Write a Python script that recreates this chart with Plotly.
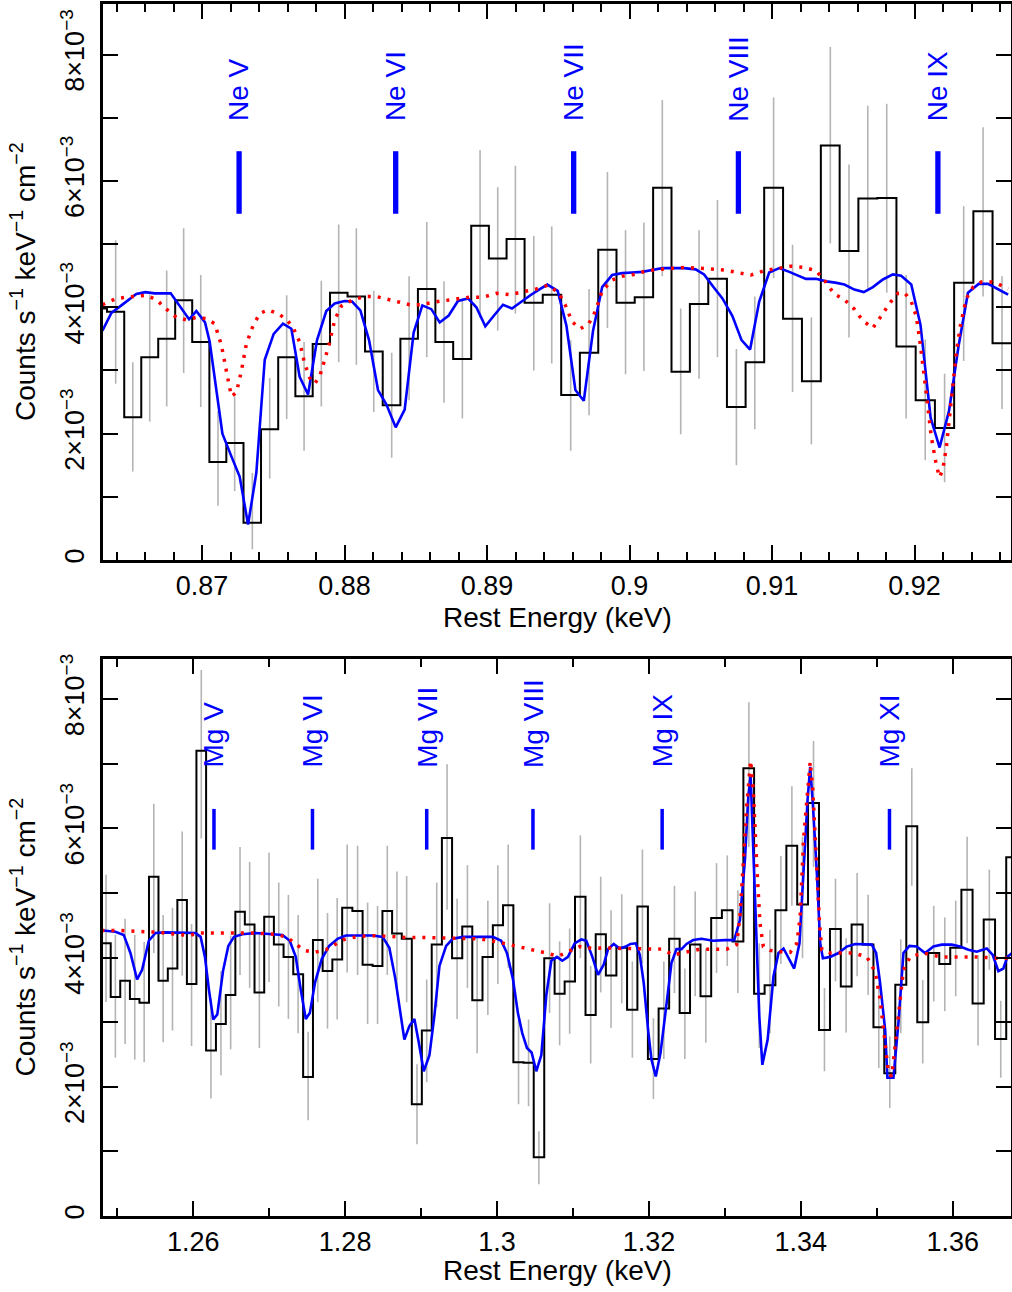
import plotly.graph_objects as go

# ---------------- top panel : Ne region (counts in units of 1e-3) ----------------
ne_e = [0.86272, 0.86394, 0.86514, 0.86633, 0.86752, 0.86871, 0.86991, 0.87112, 0.87229,
        0.87353, 0.87475, 0.87594, 0.87716, 0.87837, 0.87959, 0.88083, 0.88205, 0.88331,
        0.88453, 0.88577, 0.88698, 0.88827, 0.88951, 0.89075, 0.89199, 0.89328, 0.89454,
        0.89587, 0.89716, 0.89845, 0.89972, 0.90101, 0.90230, 0.90359, 0.90488, 0.90617,
        0.90750, 0.90879, 0.91011, 0.91144, 0.91276, 0.91409, 0.91540, 0.91672, 0.91805,
        0.91941, 0.92075, 0.92211, 0.92345, 0.92481, 0.92614]
ne_rate = [3.98, 3.93, 2.26, 3.21, 3.50, 4.11, 3.45, 1.55, 1.85,
           0.59, 2.07, 3.21, 2.59, 3.42, 4.23, 4.17, 3.30, 2.45,
           3.50, 4.29, 3.45, 3.18, 5.29, 4.77, 5.08, 4.07, 4.20,
           2.61, 3.28, 4.91, 4.07, 4.16, 5.89, 2.98, 4.05, 4.45,
           2.42, 3.13, 5.89, 3.82, 2.83, 6.56, 4.89, 5.72, 5.73,
           3.38, 2.53, 2.09, 4.39, 5.52, 3.43]
ne_lo = [2.90, 2.79, 1.40, 2.19, 2.43, 2.96, 2.42, 0.86, 1.09,
         0.17, 1.29, 2.23, 1.73, 2.43, 3.13, 3.09, 2.34, 1.62,
         2.53, 3.21, 2.49, 2.24, 3.83, 3.63, 3.90, 3.00, 3.11,
         1.73, 2.29, 3.67, 2.94, 2.99, 4.49, 1.99, 2.87, 3.21,
         1.50, 2.07, 4.46, 2.66, 1.83, 5.01, 3.52, 4.26, 4.23,
         2.24, 1.58, 1.23, 3.15, 4.17, 2.39]
ne_hi = [5.00, 5.06, 3.13, 4.20, 4.58, 5.25, 4.51, 2.36, 2.59,
         1.38, 2.88, 4.19, 3.45, 4.42, 5.31, 5.25, 4.26, 3.28,
         4.49, 5.35, 4.41, 4.14, 6.49, 5.90, 6.24, 5.13, 5.28,
         3.48, 4.29, 6.14, 5.22, 5.34, 7.28, 3.98, 5.22, 5.70,
         3.34, 4.17, 7.32, 4.99, 3.84, 8.12, 6.26, 7.19, 7.22,
         4.51, 3.49, 2.95, 5.60, 6.85, 4.49]

ne_blue_e = [0.86301, 0.86364, 0.86434, 0.86539, 0.86602, 0.86668, 0.86780, 0.86843, 0.86909,
             0.86960, 0.87021, 0.87054, 0.87089, 0.87143, 0.87206, 0.87264, 0.87323, 0.87381,
             0.87440, 0.87503, 0.87568, 0.87627, 0.87685, 0.87744, 0.87807, 0.87872, 0.87931,
             0.88001, 0.88053, 0.88111, 0.88172, 0.88235, 0.88294, 0.88359, 0.88422, 0.88485,
             0.88546, 0.88609, 0.88668, 0.88731, 0.88796, 0.88867, 0.88925, 0.88988, 0.89049,
             0.89112, 0.89175, 0.89241, 0.89304, 0.89365, 0.89423, 0.89496, 0.89557, 0.89620,
             0.89679, 0.89744, 0.89808, 0.89878, 0.89948, 0.90019, 0.90089, 0.90159, 0.90230,
             0.90300, 0.90382, 0.90464, 0.90523, 0.90589, 0.90652, 0.90722, 0.90786, 0.90846,
             0.90910, 0.90980, 0.91051, 0.91121, 0.91179, 0.91238, 0.91308, 0.91379, 0.91444,
             0.91508, 0.91578, 0.91644, 0.91708, 0.91778, 0.91848, 0.91906, 0.91977, 0.92042,
             0.92113, 0.92176, 0.92242, 0.92310, 0.92375, 0.92450, 0.92516, 0.92586, 0.92657]
ne_blue = [3.63, 3.91, 4.03, 4.21, 4.24, 4.22, 4.22, 4.01, 3.81,
           3.94, 3.76, 3.45, 2.88, 2.00, 1.64, 1.32, 0.56, 1.38,
           3.17, 3.58, 3.74, 3.66, 2.90, 2.62, 3.48, 3.94, 4.06,
           4.10, 4.09, 3.95, 3.48, 2.69, 2.46, 2.10, 2.38, 3.60,
           4.03, 3.97, 3.76, 3.87, 4.10, 4.14, 4.00, 3.70, 3.87,
           4.04, 3.98, 4.09, 4.19, 4.28, 4.36, 4.26, 3.71, 2.69,
           2.52, 3.63, 4.32, 4.51, 4.54, 4.55, 4.56, 4.59, 4.62,
           4.62, 4.62, 4.60, 4.52, 4.32, 4.14, 3.86, 3.48, 3.33,
           4.09, 4.55, 4.62, 4.56, 4.51, 4.45, 4.45, 4.41, 4.39,
           4.36, 4.28, 4.24, 4.32, 4.44, 4.52, 4.50, 4.36, 3.72,
           2.25, 1.78, 2.36, 3.40, 4.23, 4.37, 4.37, 4.29, 4.20]

ne_red_e = [0.86301, 0.86399, 0.86516, 0.86609, 0.86680, 0.86750, 0.86820, 0.86890, 0.86960,
            0.87030, 0.87089, 0.87136, 0.87171, 0.87206, 0.87241, 0.87276, 0.87311, 0.87358,
            0.87405, 0.87463, 0.87533, 0.87592, 0.87639, 0.87685, 0.87720, 0.87756, 0.87791,
            0.87826, 0.87861, 0.87896, 0.87931, 0.87978, 0.88060, 0.88142, 0.88223, 0.88305,
            0.88387, 0.88457, 0.88539, 0.88621, 0.88715, 0.88808, 0.88878, 0.88972, 0.89066,
            0.89159, 0.89253, 0.89346, 0.89428, 0.89503, 0.89550, 0.89597, 0.89655, 0.89714,
            0.89761, 0.89808, 0.89878, 0.89948, 0.90031, 0.90124, 0.90218, 0.90312, 0.90382,
            0.90476, 0.90570, 0.90664, 0.90757, 0.90851, 0.90945, 0.91039, 0.91133, 0.91226,
            0.91308, 0.91367, 0.91437, 0.91508, 0.91578, 0.91637, 0.91707, 0.91766, 0.91824,
            0.91883, 0.91930, 0.91977, 0.92012, 0.92035, 0.92059, 0.92082, 0.92117, 0.92153,
            0.92176, 0.92199, 0.92223, 0.92246, 0.92270, 0.92293, 0.92324, 0.92364, 0.92411,
            0.92469, 0.92539, 0.92586, 0.92657]
ne_red = [4.04, 4.14, 4.17, 4.19, 4.12, 3.97, 3.84, 3.80, 3.84,
          3.82, 3.74, 3.40, 2.99, 2.59, 2.65, 2.99, 3.42, 3.71,
          3.90, 3.96, 3.90, 3.81, 3.68, 3.45, 3.11, 2.88, 2.79,
          2.91, 3.17, 3.45, 3.80, 4.02, 4.12, 4.17, 4.17, 4.13,
          4.08, 4.04, 4.04, 4.08, 4.11, 4.14, 4.16, 4.16, 4.22,
          4.20, 4.24, 4.29, 4.35, 4.23, 4.03, 3.77, 3.66, 3.74,
          3.94, 4.26, 4.43, 4.49, 4.52, 4.58, 4.60, 4.62, 4.63,
          4.62, 4.60, 4.59, 4.55, 4.51, 4.58, 4.62, 4.65, 4.63,
          4.58, 4.43, 4.21, 4.12, 3.97, 3.79, 3.67, 3.86, 4.06,
          4.22, 4.23, 4.09, 3.86, 3.51, 3.11, 2.65, 1.96, 1.50,
          1.31, 1.44, 1.78, 2.25, 2.82, 3.28, 3.74, 4.14, 4.32,
          4.40, 4.40, 4.37, 4.29]

ne_ions = ["Ne V", "Ne VI", "Ne VII", "Ne VIII", "Ne IX"]
ne_ion_e = [0.87260, 0.88359, 0.89608, 0.90764, 0.92164]

# ---------------- bottom panel : Mg region ----------------
mg_e = [1.24852, 1.24975, 1.25103, 1.25230, 1.25354, 1.25481, 1.25604, 1.25727, 1.25855,
        1.25978, 1.26106, 1.26233, 1.26365, 1.26493, 1.26616, 1.26743, 1.26871, 1.26998,
        1.27126, 1.27253, 1.27381, 1.27513, 1.27640, 1.27768, 1.27895, 1.28027, 1.28164,
        1.28296, 1.28427, 1.28555, 1.28682, 1.28810, 1.28946, 1.29074, 1.29206, 1.29342,
        1.29474, 1.29610, 1.29738, 1.29879, 1.30011, 1.30147, 1.30283, 1.30415, 1.30551,
        1.30692, 1.30824, 1.30956, 1.31097, 1.31233, 1.31365, 1.31501, 1.31642, 1.31782,
        1.31914, 1.32059, 1.32196, 1.32336, 1.32473, 1.32609, 1.32749, 1.32890, 1.33031,
        1.33171, 1.33316, 1.33453, 1.33593, 1.33737, 1.33882, 1.34022, 1.34167, 1.34311,
        1.34456, 1.34596, 1.34741, 1.34886, 1.35026, 1.35171, 1.35316, 1.35461, 1.35605,
        1.35750, 1.35895, 1.36039, 1.36189, 1.36333, 1.36482, 1.36632, 1.36776]
mg_rate = [4.22, 3.39, 3.64, 3.36, 3.30, 5.25, 3.64, 3.83, 4.89,
           3.59, 7.20, 2.56, 2.97, 3.42, 4.71, 4.51, 3.46, 4.63,
           4.20, 4.01, 3.74, 2.15, 4.27, 3.79, 3.97, 4.77, 4.72,
           3.89, 3.87, 4.72, 4.37, 4.29, 1.73, 2.87, 4.20, 5.85,
           3.99, 4.48, 3.34, 4.01, 4.50, 4.81, 2.38, 2.37, 0.91,
           3.99, 3.44, 3.63, 4.94, 3.11, 4.36, 3.72, 4.15, 3.19,
           4.79, 2.43, 3.21, 4.29, 3.14, 4.20, 3.40, 4.61, 4.73,
           4.25, 6.93, 3.44, 3.57, 4.73, 5.73, 4.82, 6.39, 2.88,
           4.44, 3.55, 4.51, 4.20, 2.92, 2.21, 3.58, 6.03, 3.00,
           4.07, 3.90, 4.15, 5.05, 3.29, 4.59, 2.74, 5.55]
mg_lo = [3.31, 2.45, 2.66, 2.42, 2.38, 4.07, 2.69, 2.87, 3.72,
         2.63, 5.84, 1.82, 2.18, 2.58, 3.73, 3.53, 2.60, 3.62,
         3.24, 3.05, 2.83, 1.48, 3.31, 2.90, 3.04, 3.77, 3.73,
         2.97, 2.97, 3.73, 3.42, 3.31, 1.11, 2.07, 3.23, 4.74,
         3.05, 3.53, 2.52, 3.11, 3.59, 3.84, 1.73, 1.70, 0.49,
         3.14, 2.64, 2.82, 3.99, 2.36, 3.46, 2.91, 3.29, 2.45,
         3.91, 1.81, 2.43, 3.45, 2.43, 3.40, 2.68, 3.76, 3.87,
         3.45, 5.71, 2.60, 2.83, 3.90, 4.80, 3.99, 5.40, 2.24,
         3.63, 2.84, 3.71, 3.42, 2.29, 1.67, 2.83, 5.11, 2.36,
         3.32, 3.17, 3.40, 4.22, 2.64, 3.81, 2.14, 4.68]
mg_hi = [5.28, 4.35, 4.60, 4.35, 4.24, 6.38, 4.66, 4.77, 5.95,
         4.52, 8.45, 3.36, 3.79, 4.34, 5.71, 5.48, 4.40, 5.62,
         5.16, 4.97, 4.66, 2.85, 5.22, 4.69, 4.92, 5.75, 5.73,
         4.85, 4.80, 5.73, 5.33, 5.26, 2.35, 3.66, 5.16, 6.99,
         4.91, 5.43, 4.32, 4.88, 5.43, 5.75, 3.04, 3.04, 1.31,
         4.84, 4.25, 4.45, 5.89, 3.87, 5.25, 4.73, 4.98, 3.94,
         5.67, 3.06, 3.94, 5.11, 3.83, 5.02, 4.14, 5.46, 5.58,
         5.04, 7.95, 4.22, 4.43, 5.57, 6.65, 5.87, 7.35, 3.53,
         5.22, 4.30, 5.31, 4.97, 3.61, 2.78, 4.28, 6.93, 3.65,
         4.80, 4.62, 4.88, 5.87, 4.04, 5.36, 3.33, 6.38]

mg_blue_e = [1.24791, 1.24975, 1.25085, 1.25173, 1.25261, 1.25327, 1.25415, 1.25503, 1.25635,
             1.25855, 1.26031, 1.26097, 1.26154, 1.26207, 1.26264, 1.26317, 1.26392, 1.26462,
             1.26537, 1.26647, 1.26823, 1.27043, 1.27175, 1.27271, 1.27350, 1.27416, 1.27482,
             1.27535, 1.27605, 1.27693, 1.27790, 1.27900, 1.28010, 1.28186, 1.28362, 1.28494,
             1.28582, 1.28661, 1.28727, 1.28780, 1.28846, 1.28912, 1.28969, 1.29035, 1.29110,
             1.29176, 1.29242, 1.29330, 1.29418, 1.29550, 1.29813, 1.29945, 1.30055, 1.30130,
             1.30209, 1.30275, 1.30332, 1.30394, 1.30455, 1.30517, 1.30583, 1.30649, 1.30715,
             1.30789, 1.30859, 1.30934, 1.31022, 1.31110, 1.31176, 1.31255, 1.31330, 1.31404,
             1.31462, 1.31536, 1.31615, 1.31695, 1.31756, 1.31827, 1.31880, 1.31932, 1.31989,
             1.32033, 1.32090, 1.32152, 1.32222, 1.32297, 1.32363, 1.32429, 1.32495, 1.32583,
             1.32693, 1.32846, 1.33000, 1.33123, 1.33198, 1.33264, 1.33308, 1.33339, 1.33374,
             1.33418, 1.33453, 1.33493, 1.33563, 1.33640, 1.33706, 1.33772, 1.33838, 1.33912,
             1.33982, 1.34035, 1.34088, 1.34123, 1.34158, 1.34211, 1.34255, 1.34290, 1.34386,
             1.34496, 1.34605, 1.34715, 1.34825, 1.34934, 1.34991, 1.35044, 1.35110, 1.35140,
             1.35219, 1.35285, 1.35351, 1.35430, 1.35526, 1.35636, 1.35746, 1.35855, 1.35987,
             1.36097, 1.36206, 1.36316, 1.36448, 1.36526, 1.36601, 1.36667, 1.36719, 1.36781]
mg_blue = [4.42, 4.40, 4.35, 4.07, 3.66, 3.81, 4.26, 4.38, 4.39,
           4.39, 4.38, 4.32, 4.01, 3.50, 3.04, 3.12, 3.79, 4.18,
           4.32, 4.36, 4.38, 4.36, 4.35, 4.26, 4.01, 3.50, 3.05,
           3.14, 3.62, 3.98, 4.18, 4.29, 4.34, 4.34, 4.34, 4.32,
           4.15, 3.67, 3.14, 2.73, 2.94, 3.05, 2.69, 2.24, 2.49,
           3.11, 3.87, 4.18, 4.29, 4.32, 4.32, 4.32, 4.26, 4.07,
           3.67, 3.14, 2.83, 2.60, 2.53, 2.24, 2.49, 3.42, 3.95,
           4.01, 3.95, 4.01, 4.22, 4.28, 4.26, 4.01, 3.73, 3.89,
           4.13, 4.21, 4.14, 4.17, 4.21, 4.22, 4.04, 3.60, 2.88,
           2.42, 2.16, 2.52, 3.19, 3.92, 4.13, 4.13, 4.21, 4.27,
           4.29, 4.26, 4.27, 4.27, 4.58, 5.51, 6.49, 6.82, 5.66,
           4.07, 3.09, 2.34, 2.73, 3.71, 4.07, 4.14, 3.99, 3.83,
           4.22, 5.35, 6.43, 6.95, 6.38, 5.30, 4.22, 3.99, 4.01,
           4.07, 4.17, 4.21, 4.21, 4.20, 4.07, 3.60, 2.88, 2.14,
           2.14, 2.99, 4.07, 4.18, 4.17, 4.07, 4.17, 4.20, 4.20,
           4.17, 4.12, 4.09, 4.14, 4.04, 3.79, 3.83, 4.01, 4.07]

mg_red_e = [1.24791, 1.25019, 1.25371, 1.25547, 1.25767, 1.25943, 1.26075, 1.26251, 1.26515,
            1.26779, 1.27087, 1.27241, 1.27350, 1.27460, 1.27592, 1.27746, 1.27878, 1.27988,
            1.28142, 1.28318, 1.28538, 1.28802, 1.29022, 1.29286, 1.29550, 1.29769, 1.30011,
            1.30209, 1.30473, 1.30649, 1.30803, 1.31088, 1.31264, 1.31440, 1.31659, 1.31835,
            1.32011, 1.32165, 1.32319, 1.32495, 1.32671, 1.32846, 1.33022, 1.33154, 1.33198,
            1.33242, 1.33286, 1.33339, 1.33374, 1.33418, 1.33462, 1.33506, 1.33594, 1.33728,
            1.33860, 1.33947, 1.33991, 1.34035, 1.34088, 1.34123, 1.34158, 1.34211, 1.34246,
            1.34276, 1.34386, 1.34518, 1.34693, 1.34869, 1.34978, 1.35044, 1.35110, 1.35154,
            1.35197, 1.35241, 1.35299, 1.35351, 1.35439, 1.35614, 1.35834, 1.36053, 1.36316,
            1.36579, 1.36755]
mg_red = [4.42, 4.42, 4.40, 4.39, 4.36, 4.34, 4.38, 4.38, 4.38,
          4.38, 4.36, 4.31, 4.21, 4.11, 4.08, 4.12, 4.21, 4.28,
          4.32, 4.34, 4.33, 4.31, 4.31, 4.30, 4.30, 4.29, 4.24,
          4.19, 4.12, 4.07, 4.02, 4.17, 4.14, 4.15, 4.14, 4.14,
          4.14, 4.13, 4.04, 4.08, 4.13, 4.13, 4.13, 4.20, 4.63,
          5.46, 6.33, 7.05, 6.59, 5.46, 4.53, 4.17, 4.11, 4.09,
          4.08, 4.22, 4.63, 5.82, 6.59, 7.03, 6.59, 5.25, 4.53,
          4.12, 4.07, 4.07, 4.07, 4.01, 3.78, 3.35, 2.68, 2.21,
          2.16, 2.63, 3.29, 3.81, 4.01, 4.07, 4.01, 4.01, 4.01,
          3.99, 3.99]

mg_ions = ["Mg V", "Mg VI", "Mg VII", "Mg VIII", "Mg IX", "Mg XI"]
mg_ion_e = [1.26273, 1.27570, 1.29074, 1.30473, 1.32174, 1.35167]

FONT = "Liberation Sans, Arial, sans-serif"
BLUE = "#0000ff"
RED = "#ff0000"


def steps(cen, val):
    edges = [cen[0] - (cen[1] - cen[0]) / 2]
    edges += [(a + b) / 2 for a, b in zip(cen[:-1], cen[1:])]
    edges.append(cen[-1] + (cen[-1] - cen[-2]) / 2)
    return edges, list(val) + [val[-1]]


def segs(xs, lo, hi):
    x, y = [], []
    for c, a, b in zip(xs, lo, hi):
        x += [c, c, None]
        y += [a, b, None]
    return x, y


def add_panel(fig, xa, ya, e, rate, lo, hi, be, bl, re_, rd, ions, ion_e, bar_lo, bar_hi, bar_w):
    ex, ey = segs(e, lo, hi)
    fig.add_trace(go.Scatter(x=ex, y=ey, mode="lines", line=dict(color="#b4b4b4", width=1.6),
                             xaxis=xa, yaxis=ya, hoverinfo="skip"))
    hx, hy = steps(e, rate)
    fig.add_trace(go.Scatter(x=hx, y=hy, mode="lines", line=dict(color="black", width=2, shape="hv"),
                             xaxis=xa, yaxis=ya))
    fig.add_trace(go.Scatter(x=be, y=bl, mode="lines", line=dict(color=BLUE, width=2.6),
                             xaxis=xa, yaxis=ya))
    fig.add_trace(go.Scatter(x=re_, y=rd, mode="lines", line=dict(color=RED, width=3.5, dash="3px,7px"),
                             xaxis=xa, yaxis=ya))
    tx, ty = segs(ion_e, [bar_lo] * len(ion_e), [bar_hi] * len(ion_e))
    fig.add_trace(go.Scatter(x=tx, y=ty, mode="lines", line=dict(color=BLUE, width=bar_w),
                             xaxis=xa, yaxis=ya))
    for name, pos in zip(ions, ion_e):
        fig.add_annotation(x=pos, y=6.91, xref=xa, yref=ya, text=name, textangle=-90,
                           showarrow=False, xanchor="center", yanchor="bottom",
                           font=dict(family=FONT, size=28, color=BLUE))


fig = go.Figure()
add_panel(fig, "x", "y", ne_e, ne_rate, ne_lo, ne_hi, ne_blue_e, ne_blue, ne_red_e, ne_red,
          ne_ions, ne_ion_e, 5.48, 6.47, 5.3)
add_panel(fig, "x2", "y2", mg_e, mg_rate, mg_lo, mg_hi, mg_blue_e, mg_blue, mg_red_e, mg_red,
          mg_ions, mg_ion_e, 5.67, 6.30, 3.5)

axis = dict(showline=True, linecolor="black", linewidth=3, mirror="ticks", ticks="inside",
            tickcolor="black", tickwidth=2, ticklen=15, showgrid=False, zeroline=False,
            automargin=False, tickfont=dict(family=FONT, size=27, color="black"))
minor_x = dict(ticks="inside", ticklen=8, tickcolor="black", tickwidth=2)
minor_y = dict(ticks="inside", ticklen=15, tickcolor="black", tickwidth=2, tick0=0, dtick=1)

ylab = ["0", "2×10<sup>−3</sup>", "4×10<sup>−3</sup>", "6×10<sup>−3</sup>", "8×10<sup>−3</sup>"]
top_dom = [1 - 556 / 1212, 1]
bot_dom = [0, 557 / 1212]

fig.update_layout(
    width=1012, height=1292, showlegend=False,
    paper_bgcolor="white", plot_bgcolor="white",
    margin=dict(l=103, r=1, t=4, b=76),
    font=dict(family=FONT, size=27, color="black"),
    xaxis=dict(axis, domain=[0, 1], anchor="y", range=[0.86305, 0.92677],
               tickmode="array", tickvals=[0.87, 0.88, 0.89, 0.90, 0.91, 0.92],
               ticktext=["0.87", "0.88", "0.89", "0.9", "0.91", "0.92"], ticklabelstandoff=0,
               minor=dict(minor_x, tick0=0.862, dtick=0.002)),
    yaxis=dict(axis, domain=top_dom, anchor="x", range=[0, 8.8],
               tickmode="array", tickvals=[0, 2, 4, 6, 8], ticktext=ylab, tickangle=-90,
               ticklabelstandoff=5, minor=minor_y),
    xaxis2=dict(axis, domain=[0, 1], anchor="y2", range=[1.24812, 1.36767],
                tickmode="array", tickvals=[1.26, 1.28, 1.30, 1.32, 1.34, 1.36],
                ticktext=["1.26", "1.28", "1.3", "1.32", "1.34", "1.36"], ticklabelstandoff=0,
                minor=dict(minor_x, tick0=1.25, dtick=0.01)),
    yaxis2=dict(axis, domain=bot_dom, anchor="x2", range=[0, 8.62],
                tickmode="array", tickvals=[0, 2, 4, 6, 8], ticktext=ylab, tickangle=-90,
                ticklabelstandoff=5, minor=minor_y),
)

ytitle = "Counts s<sup>−1</sup> keV<sup>−1</sup> cm<sup>−2</sup>"
for dom, shift in ((top_dom, -57), (bot_dom, -54)):
    fig.add_annotation(x=0, y=(dom[0] + dom[1]) / 2, xref="paper", yref="paper", text=ytitle,
                       textangle=-90, showarrow=False, xanchor="center", yanchor="middle",
                       xshift=-80, font=dict(family=FONT, size=28, color="black"))
    fig.add_annotation(x=0.5, y=dom[0], xref="paper", yref="paper", text="Rest Energy (keV)",
                       showarrow=False, xanchor="center", yanchor="middle", yshift=shift,
                       font=dict(family=FONT, size=28, color="black"))

# drop the page's default body margin so the 1012x1292 figure fills the window
fig.write_html("out.html", config={"displayModeBar": False},
               post_script="document.body.style.margin='0';")
